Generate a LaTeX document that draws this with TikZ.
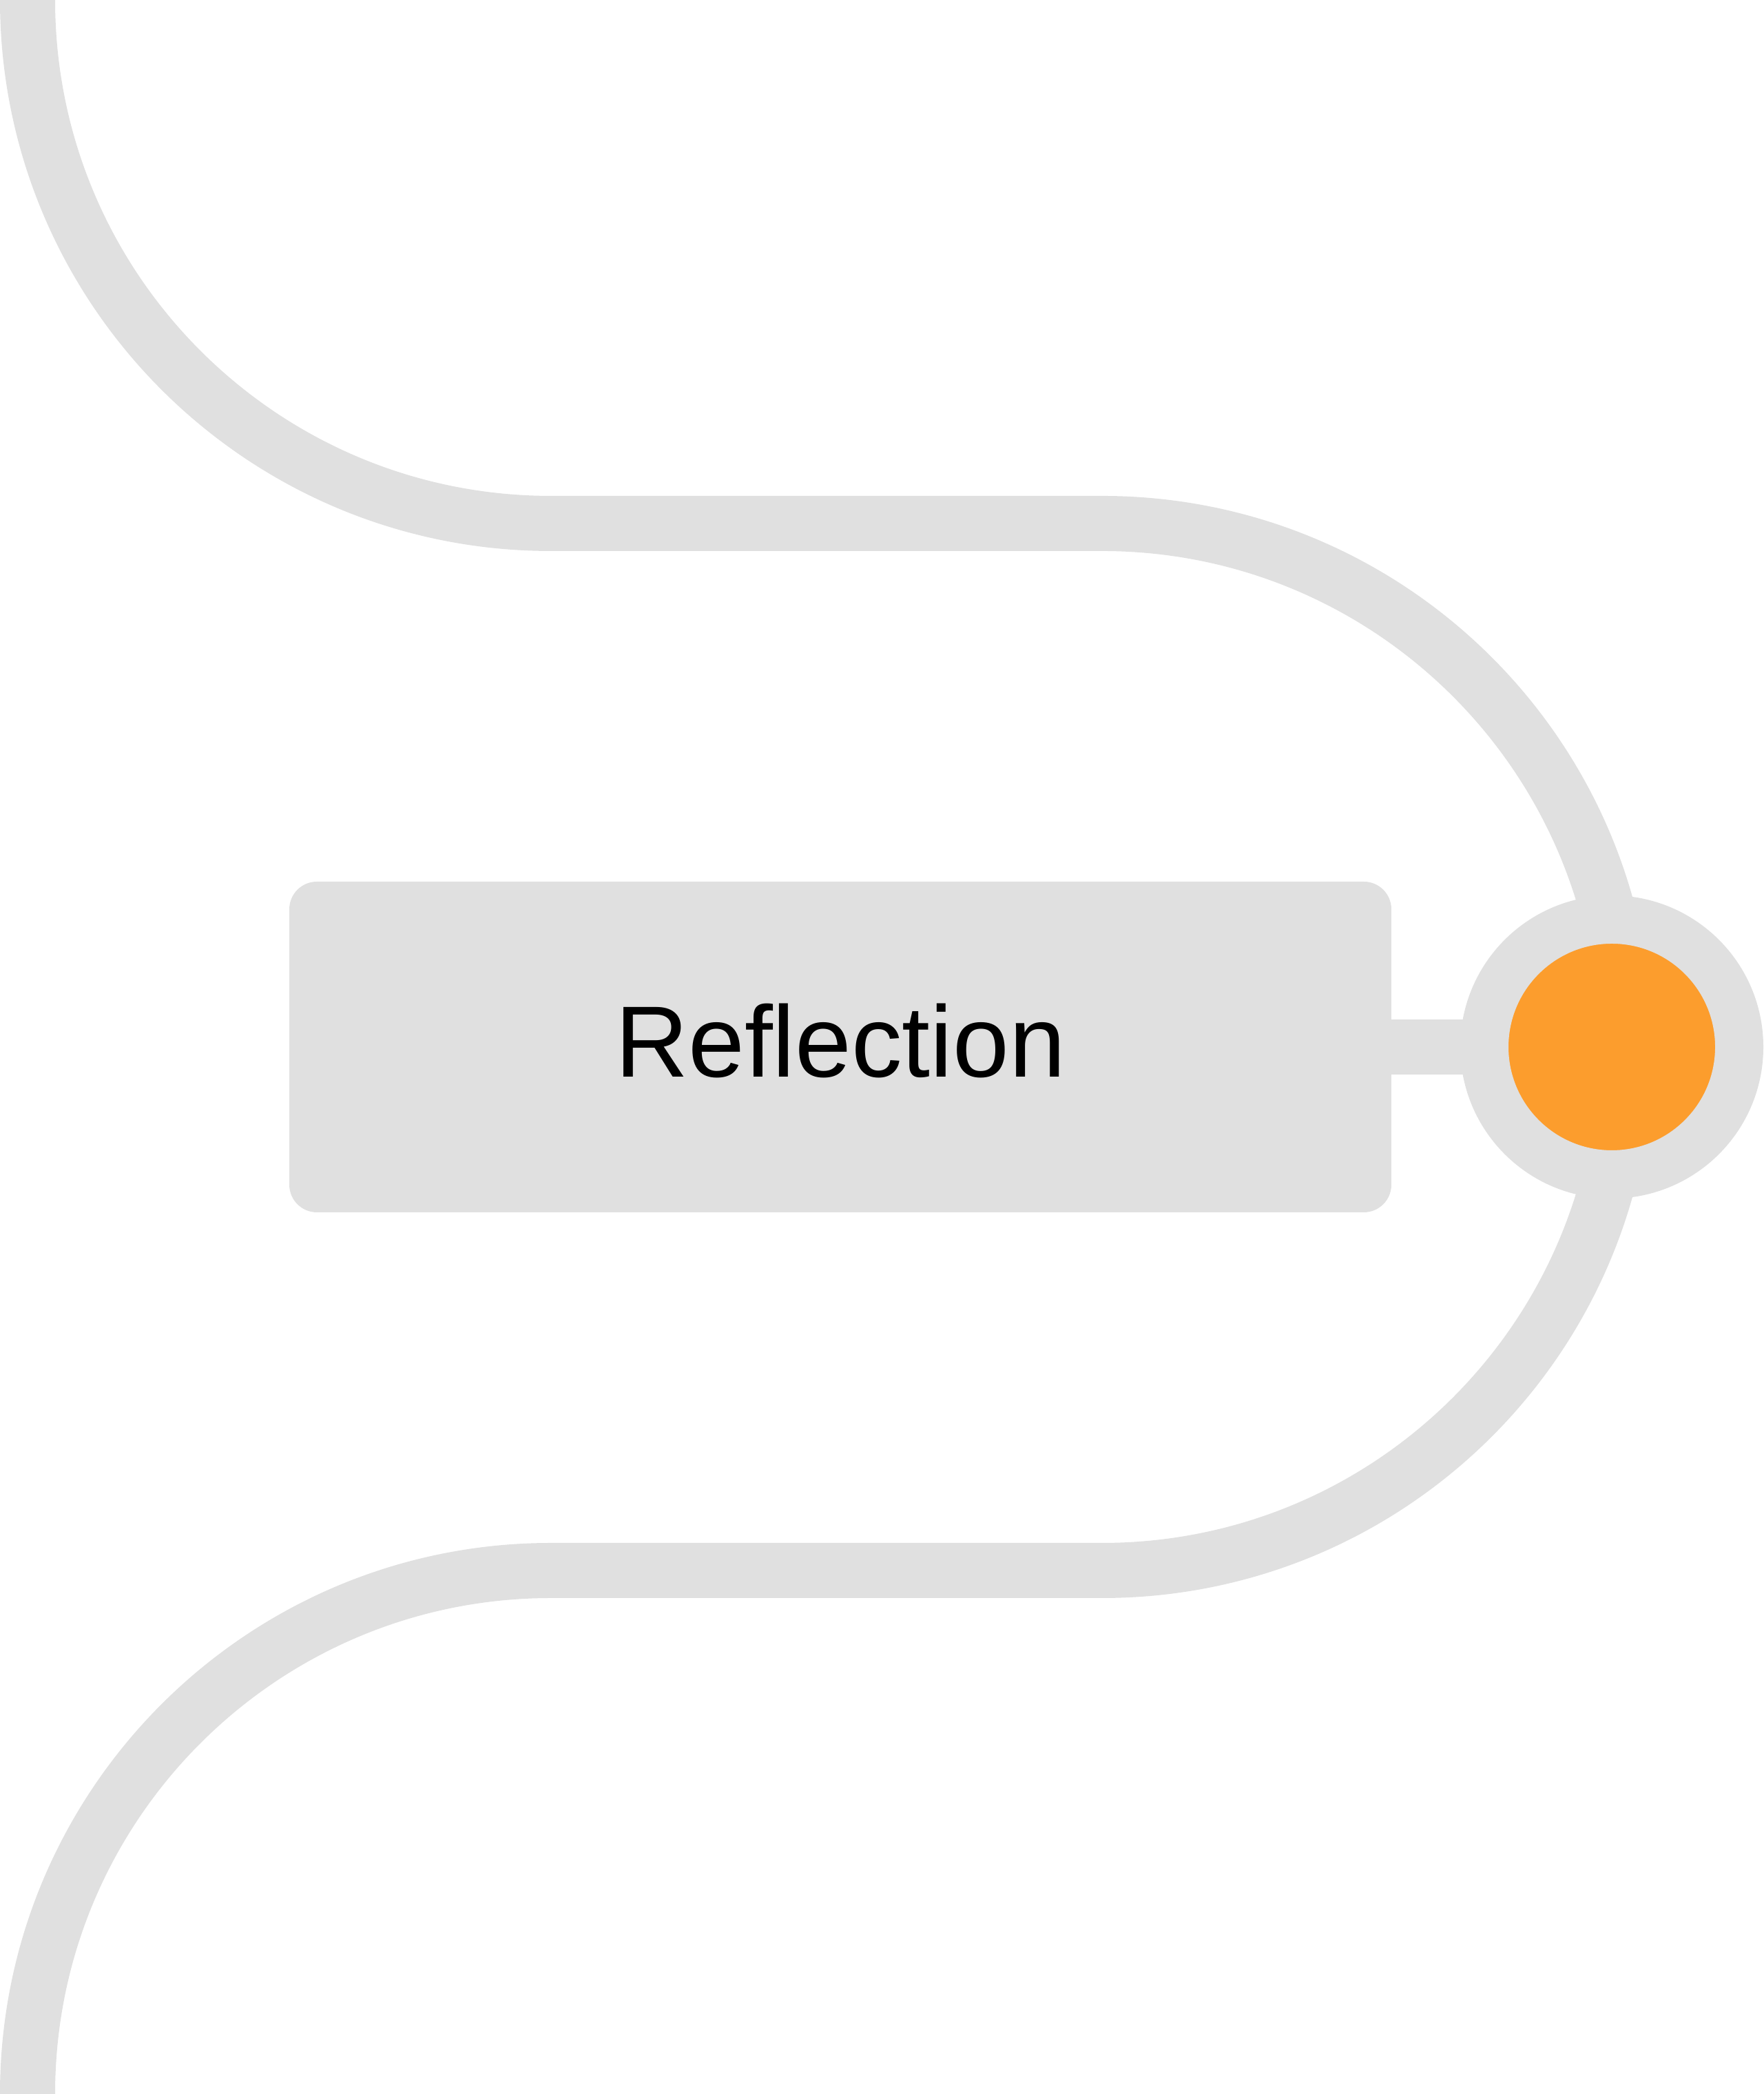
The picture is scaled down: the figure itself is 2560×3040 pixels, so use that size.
\documentclass[tikz,border=0pt]{standalone}
\usepackage{fontspec}
\setmainfont{Liberation Sans}
\usetikzlibrary{backgrounds}
\definecolor{trackgray}{HTML}{E0E0E0}
\definecolor{dotorange}{HTML}{FC9D2D}
\begin{document}
\begin{tikzpicture}[x=0.1pt,y=0.1pt,
  track/.style={draw=trackgray,line width=8pt,line cap=butt},
  stagebox/.style={rectangle,rounded corners=4pt,fill=trackgray,draw=none,
    minimum width=160pt,minimum height=48pt,inner sep=0pt,
    font=\fontsize{14.7}{17}\selectfont,text=black},
  stopdot/.style={circle,draw=trackgray,line width=7pt,fill=dotorange,
    minimum size=37pt,inner sep=0pt}]
\useasboundingbox (0,0) rectangle (2560,3040);
% nodes
\node[stagebox] (refl) at (1220,1520) {\raisebox{-4.32pt}[0pt][0pt]{Reflection}};
\node[stopdot] (dot) at (2340,1520) {};
\begin{scope}[on background layer]
\fill[white] (0,0) rectangle (2560,3040);
% track
\coordinate (tstart) at (40,3040);
\draw[track] (tstart) arc[start angle=180,end angle=270,radius=760]
  -- (1600,2280) arc[start angle=90,end angle=0,radius=760]
  arc[start angle=0,end angle=-90,radius=760]
  -- (800,760) arc[start angle=90,end angle=180,radius=760];
\draw[track] (refl.center) -- (dot.center);
\end{scope}
\end{tikzpicture}
\end{document}
